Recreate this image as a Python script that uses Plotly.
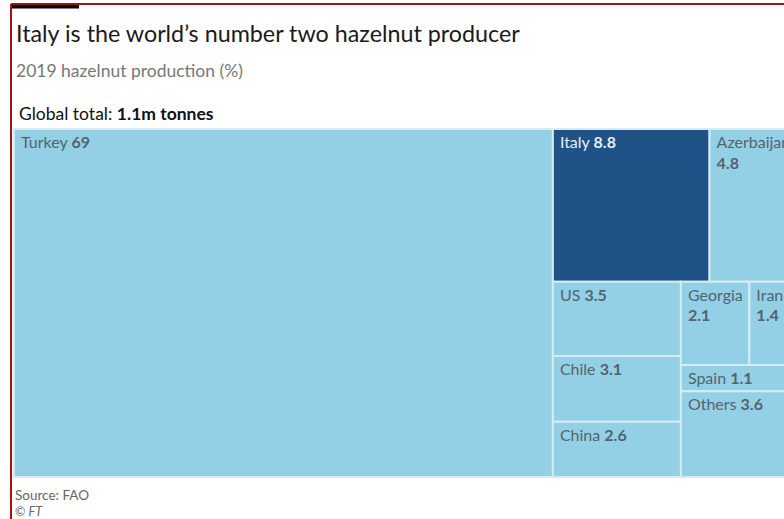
import plotly.graph_objects as go

# ---- data ----
countries = ["Turkey", "Italy", "Azerbaijan", "US", "Chile", "China",
             "Georgia", "Iran", "Spain", "Others"]
shares = [69, 8.8, 4.8, 3.5, 3.1, 2.6, 2.1, 1.4, 1.1, 3.6]
label_sep = [" ", " ", "<br>", " ", " ", " ", "<br>", "<br>", " ", " "]
highlight = ["Italy"]

title_text = "Italy is the world\u2019s number two hazelnut producer"
subtitle_text = "2019 hazelnut production (%)"
total_text = "Global total: <b>1.1m tonnes</b>"
source_text = "Source: FAO"
credit_text = "\u00a9 <i>FT</i>"

LIGHT = "#94d0e5"
DARK = "#1f5387"
TXT = "#52646e"
FONT = "Lato, sans-serif"

# the original graphic is wider than the visible window (it is cropped on the right)
W, H = 795, 519
ML, MR, MT, MB = 14, 0, 129, 42
PW, PH = W - ML - MR, H - MT - MB


def px_x(x):
    return (x - ML) / PW


def px_y(y):
    return (H - MB - y) / PH


INSET = "\u2009\u2009"
texts = []
for c, s, v in zip(countries, label_sep, shares):
    sep = s if s == " " else s + INSET
    texts.append(f"{INSET}{c}{sep}<b>{v:g}</b>")
colors = [DARK if c in highlight else LIGHT for c in countries]
tcolors = ["#e6eef6" if c in highlight else TXT for c in countries]

fig = go.Figure(go.Treemap(
    labels=countries,
    parents=[""] * len(countries),
    values=shares,
    text=texts,
    texttemplate="%{text}",
    textposition="top left",
    sort=False,
    tiling=dict(packing="squarify", squarifyratio=1.618034, pad=0),
    marker=dict(colors=colors, line=dict(color="#d4ecf4", width=2),
                pad=dict(t=0, l=0, r=0, b=0)),
    textfont=dict(family=FONT, size=16, color=tcolors),
    pathbar=dict(visible=False),
    hoverinfo="label+value",
))

fig.update_layout(
    width=W, height=H,
    margin=dict(l=ML, r=MR, t=MT, b=MB),
    paper_bgcolor="white",
    uniformtext=dict(minsize=16, mode="show"),
    showlegend=False,
)

ann = [
    dict(text=title_text, x=px_x(14), y=px_y(33), size=23.3, color="#1a1a1a"),
    dict(text=subtitle_text, x=px_x(14), y=px_y(71), size=17.5, color="#777777"),
    dict(text=total_text, x=px_x(17), y=px_y(114), size=17.5, color="#111111"),
    dict(text=source_text, x=px_x(13), y=px_y(494.5), size=13.5, color="#666666"),
    dict(text=credit_text, x=px_x(13), y=px_y(511), size=12.5, color="#666666"),
]
for a in ann:
    fig.add_annotation(text=a["text"], xref="paper", yref="paper", x=a["x"], y=a["y"],
                       xanchor="left", yanchor="middle", showarrow=False,
                       font=dict(family=FONT, size=a["size"], color=a["color"]))

# frame decorations
fig.add_shape(type="rect", xref="paper", yref="paper",
              x0=px_x(12), x1=px_x(79), y0=px_y(8.5), y1=px_y(4),
              fillcolor="black", line=dict(width=0))
fig.add_shape(type="line", xref="paper", yref="paper",
              x0=px_x(11), x1=px_x(W), y0=px_y(4), y1=px_y(4),
              line=dict(color="#a01414", width=2))
fig.add_shape(type="line", xref="paper", yref="paper",
              x0=px_x(11), x1=px_x(11), y0=px_y(4), y1=px_y(519),
              line=dict(color="#a01414", width=2))

fig.write_html(
    "out.html",
    config={"displayModeBar": False},
    post_script=("document.body.style.margin='0';"
                 "document.body.style.overflow='hidden';"
                 "document.documentElement.style.overflow='hidden';"),
)
